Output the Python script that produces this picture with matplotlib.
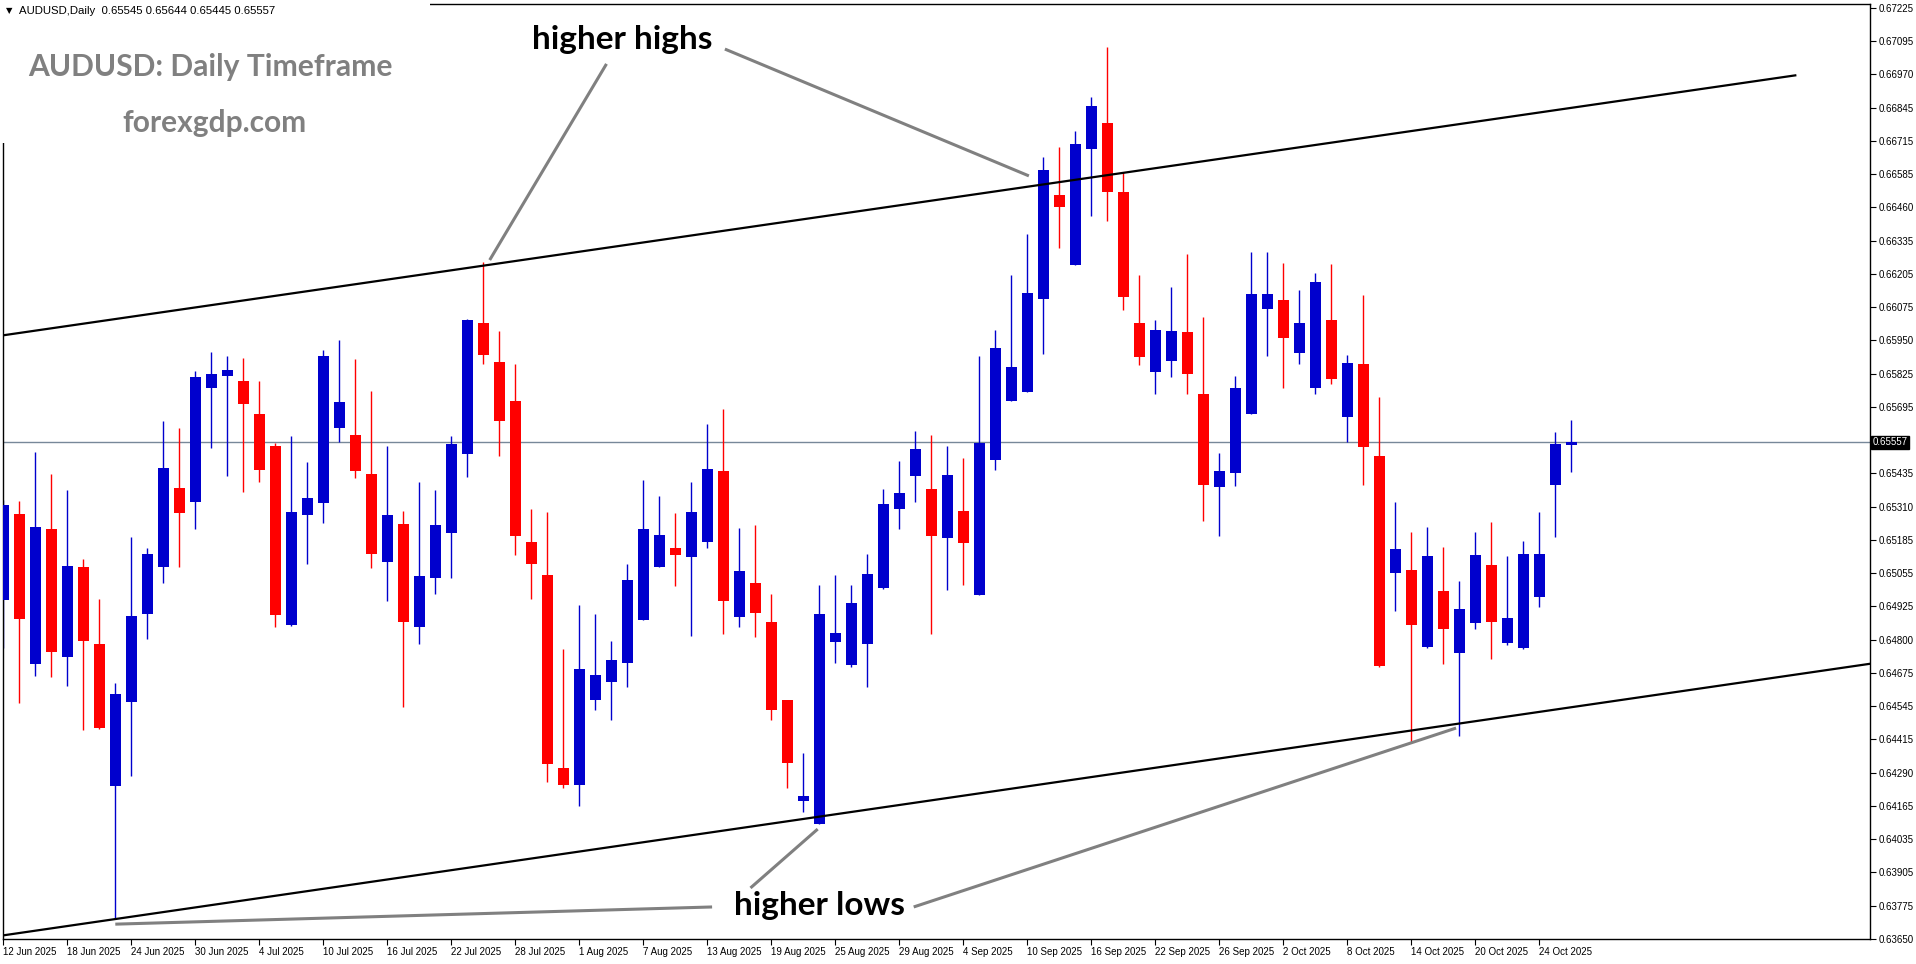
import numpy as np
import matplotlib.pyplot as plt
from matplotlib.patches import Rectangle
from matplotlib.transforms import blended_transform_factory

# AUDUSD daily candles, bar 0 = 12 Jun 2025 ... bar 98 = 28 Oct 2025
opens = [0.64951, 0.65282, 0.64706, 0.65224, 0.64733, 0.65078, 0.64783, 0.64237, 0.64560, 0.64898,
         0.65078, 0.65382, 0.65329, 0.65767, 0.65813, 0.65792, 0.65666, 0.65543, 0.64855, 0.65279,
         0.65325, 0.65613, 0.65585, 0.65435, 0.65099, 0.65243, 0.64849, 0.65037, 0.65210, 0.65513,
         0.66015, 0.65865, 0.65716, 0.65174, 0.65047, 0.64306, 0.64242, 0.64569, 0.64638, 0.64711,
         0.64876, 0.65079, 0.65151, 0.65118, 0.65175, 0.65447, 0.64887, 0.65017, 0.64868, 0.64567,
         0.64181, 0.64092, 0.64791, 0.64702, 0.64784, 0.64999, 0.65302, 0.65429, 0.65378, 0.65191,
         0.65293, 0.64972, 0.65489, 0.65717, 0.65751, 0.66108, 0.66507, 0.66239, 0.66684, 0.66783,
         0.66518, 0.66015, 0.65828, 0.65870, 0.65981, 0.65743, 0.65385, 0.65439, 0.65667, 0.66070,
         0.66103, 0.65901, 0.65767, 0.66027, 0.65655, 0.65858, 0.65504, 0.65056, 0.65067, 0.64771,
         0.64986, 0.64748, 0.64863, 0.65086, 0.64786, 0.64767, 0.64963, 0.65393, 0.65545]
highs = [0.65335, 0.65332, 0.65520, 0.65435, 0.65374, 0.65109, 0.64955, 0.64633, 0.65193, 0.65151,
         0.65639, 0.65612, 0.65831, 0.65904, 0.65888, 0.65881, 0.65792, 0.65555, 0.65581, 0.65481,
         0.65911, 0.65950, 0.65877, 0.65754, 0.65543, 0.65293, 0.65405, 0.65374, 0.65581, 0.66030,
         0.66249, 0.65984, 0.65858, 0.65301, 0.65289, 0.64764, 0.64932, 0.64898, 0.64795, 0.65091,
         0.65412, 0.65351, 0.65286, 0.65405, 0.65627, 0.65685, 0.65228, 0.65239, 0.64976, 0.64569,
         0.64365, 0.65009, 0.65049, 0.65010, 0.65129, 0.65379, 0.65485, 0.65600, 0.65586, 0.65543,
         0.65497, 0.65888, 0.65988, 0.66199, 0.66357, 0.66653, 0.66691, 0.66752, 0.66883, 0.67075,
         0.66596, 0.66199, 0.66027, 0.66153, 0.66280, 0.66038, 0.65516, 0.65812, 0.66288, 0.66288,
         0.66246, 0.66142, 0.66207, 0.66242, 0.65892, 0.66123, 0.65731, 0.65328, 0.65213, 0.65232,
         0.65155, 0.65024, 0.65213, 0.65251, 0.65120, 0.65178, 0.65289, 0.65597, 0.65644]
lows = [0.64768, 0.64557, 0.64660, 0.64656, 0.64621, 0.64452, 0.64458, 0.63728, 0.64276, 0.64802,
        0.65017, 0.65078, 0.65225, 0.65536, 0.65429, 0.65367, 0.65406, 0.64849, 0.64852, 0.65091,
        0.65248, 0.65558, 0.65421, 0.65075, 0.64949, 0.64542, 0.64784, 0.64976, 0.65037, 0.65425,
        0.65858, 0.65506, 0.65125, 0.64956, 0.64254, 0.64231, 0.64162, 0.64530, 0.64492, 0.64619,
        0.64874, 0.65077, 0.65006, 0.64814, 0.65152, 0.64822, 0.64849, 0.64811, 0.64492, 0.64231,
        0.64139, 0.64090, 0.64711, 0.64695, 0.64619, 0.64995, 0.65225, 0.65329, 0.64822, 0.64991,
        0.65010, 0.64970, 0.65451, 0.65715, 0.65749, 0.65897, 0.66304, 0.66237, 0.66427, 0.66408,
        0.66066, 0.65855, 0.65744, 0.65809, 0.65744, 0.65256, 0.65198, 0.65389, 0.65666, 0.65890,
        0.65767, 0.65859, 0.65744, 0.65782, 0.65557, 0.65393, 0.64694, 0.64910, 0.64404, 0.64769,
        0.64706, 0.64430, 0.64840, 0.64725, 0.64779, 0.64765, 0.64925, 0.65193, 0.65445]
closes = [0.65316, 0.64878, 0.65232, 0.64752, 0.65082, 0.64794, 0.64460, 0.64591, 0.64890, 0.65128,
          0.65458, 0.65286, 0.65808, 0.65819, 0.65835, 0.65705, 0.65452, 0.64895, 0.65289, 0.65343,
          0.65888, 0.65712, 0.65448, 0.65129, 0.65278, 0.64868, 0.65044, 0.65239, 0.65550, 0.66027,
          0.65892, 0.65640, 0.65198, 0.65091, 0.64323, 0.64242, 0.64687, 0.64663, 0.64721, 0.65028,
          0.65224, 0.65201, 0.65125, 0.65289, 0.65455, 0.64949, 0.65063, 0.64903, 0.64530, 0.64327,
          0.64199, 0.64898, 0.64825, 0.64941, 0.65052, 0.65320, 0.65362, 0.65531, 0.65198, 0.65431,
          0.65172, 0.65555, 0.65920, 0.65846, 0.66130, 0.66603, 0.66462, 0.66703, 0.66848, 0.66519,
          0.66116, 0.65886, 0.65988, 0.65984, 0.65820, 0.65393, 0.65447, 0.65766, 0.66127, 0.66127,
          0.65959, 0.66015, 0.66173, 0.65801, 0.65862, 0.65540, 0.64698, 0.65147, 0.64855, 0.65120,
          0.64840, 0.64917, 0.65124, 0.64868, 0.64882, 0.65128, 0.65130, 0.65550, 0.65557]

date_labels = ["12 Jun 2025", "18 Jun 2025", "24 Jun 2025", "30 Jun 2025", "4 Jul 2025",
               "10 Jul 2025", "16 Jul 2025", "22 Jul 2025", "28 Jul 2025", "1 Aug 2025",
               "7 Aug 2025", "13 Aug 2025", "19 Aug 2025", "25 Aug 2025", "29 Aug 2025",
               "4 Sep 2025", "10 Sep 2025", "16 Sep 2025", "22 Sep 2025", "26 Sep 2025",
               "2 Oct 2025", "8 Oct 2025", "14 Oct 2025", "20 Oct 2025", "24 Oct 2025"]
price_labels = ["0.63650", "0.63775", "0.63905", "0.64035", "0.64165", "0.64290", "0.64415",
                "0.64545", "0.64675", "0.64800", "0.64925", "0.65055", "0.65185", "0.65310",
                "0.65435", "", "0.65695", "0.65825", "0.65950", "0.66075", "0.66205", "0.66335",
                "0.66460", "0.66585", "0.66715", "0.66845", "0.66970", "0.67095", "0.67225"]
last_price = 0.65557

# channel lines (bar, price)
upper_line = ([0, 112], [0.65968, 0.66966])
lower_line = ([0, 116.7], [0.63664, 0.64707])

# annotation pointers (bar, price)
hh_left = ([37.7, 30.4], [0.67010, 0.66257])
hh_right = ([45.1, 64.1], [0.67067, 0.66580])
hl_left = ([44.3, 7.0], [0.63773, 0.63707])
hl_mid = ([46.7, 50.9], [0.63846, 0.64072])
hl_right = ([56.9, 90.8], [0.63773, 0.64460])

W, H = 1916, 964
plt.rcParams["font.family"] = ["Liberation Sans", "DejaVu Sans"]

fig = plt.figure(figsize=(W / 100, H / 100), dpi=100)
ax = fig.add_axes([2.5 / W, 25 / H, 1867.5 / W, 935 / H])

x = np.arange(len(opens))
o = np.array(opens)
c = np.array(closes)
up = c >= o
colors = np.where(up, "#0000CD", "#FF0000")

ax.vlines(x, lows, highs, colors=colors, lw=1.0, zorder=2)
body_h = np.maximum(np.abs(c - o), 0.00003)
ax.bar(x, body_h, bottom=np.minimum(o, c), width=0.69, color=colors, lw=0, zorder=3)

ax.plot(*upper_line, color="black", lw=1.6, zorder=4)
ax.plot(*lower_line, color="black", lw=1.6, zorder=4)
ax.axhline(last_price, color="#778899", lw=1.0, zorder=1)

for line in (hh_left, hh_right, hl_left, hl_mid, hl_right):
    ax.plot(*line, color="#808080", lw=2.2, zorder=5, solid_capstyle="butt")

ax.set_xlim(-0.05, 116.67)
ax.set_ylim(0.63650, 0.67240)

ax.set_xticks(np.arange(0, 4 * len(date_labels), 4))
ax.set_xticklabels(date_labels)
for t in ax.get_xticklabels():
    t.set_horizontalalignment("left")
ax.tick_params(axis="x", direction="out", length=4, width=0.8, labelsize=7, pad=2)

ax.yaxis.tick_right()
ax.set_yticks(np.linspace(0.63650, 0.67225, 29))
ax.set_yticklabels(price_labels)
ax.tick_params(axis="y", direction="out", length=4, width=0.8, labelsize=7, pad=2)

for s in ax.spines.values():
    s.set_linewidth(1.0)
    s.set_color("black")

# last price box
tr = blended_transform_factory(ax.transAxes, ax.transData)
ax.text(1.0015, last_price, "0.65557", transform=tr, fontsize=7, color="white",
        va="center", ha="left",
        bbox=dict(boxstyle="square,pad=0.15", fc="black", ec="black"))

# white label panel behind the title texts (hides the frame corner)
fig.patches.append(Rectangle((0, 1 - 143 / H), 430 / W, 143 / H, transform=fig.transFigure,
                             facecolor="white", edgecolor="none", zorder=1))

fig.text(6 / W, 1 - 11 / H, "\u25bc", fontsize=6, va="center", ha="left",
         family=["DejaVu Sans"], zorder=2)
fig.text(19 / W, 1 - 11 / H, "AUDUSD,Daily  0.65545 0.65644 0.65445 0.65557",
         fontsize=8.2, va="center", ha="left", zorder=2)
fig.text(28 / W, 1 - 67 / H, "AUDUSD: Daily Timeframe", fontsize=21.6, fontweight="bold",
         color="#808080", va="center", ha="left", family=["Lato", "DejaVu Sans"], zorder=2)
fig.text(214 / W, 1 - 123 / H, "forexgdp.com", fontsize=21.5, fontweight="bold",
         color="#808080", va="center", ha="center", family=["Lato", "DejaVu Sans"], zorder=2)
fig.text(622 / W, 1 - 40 / H, "higher highs", fontsize=24, fontweight="bold",
         color="black", va="center", ha="center", family=["Lato", "DejaVu Sans"], zorder=2)
fig.text(820 / W, 1 - 906 / H, "higher lows", fontsize=24, fontweight="bold",
         color="black", va="center", ha="center", family=["Lato", "DejaVu Sans"], zorder=2)

fig.savefig("out.png", dpi=100, facecolor="white")
plt.close(fig)
